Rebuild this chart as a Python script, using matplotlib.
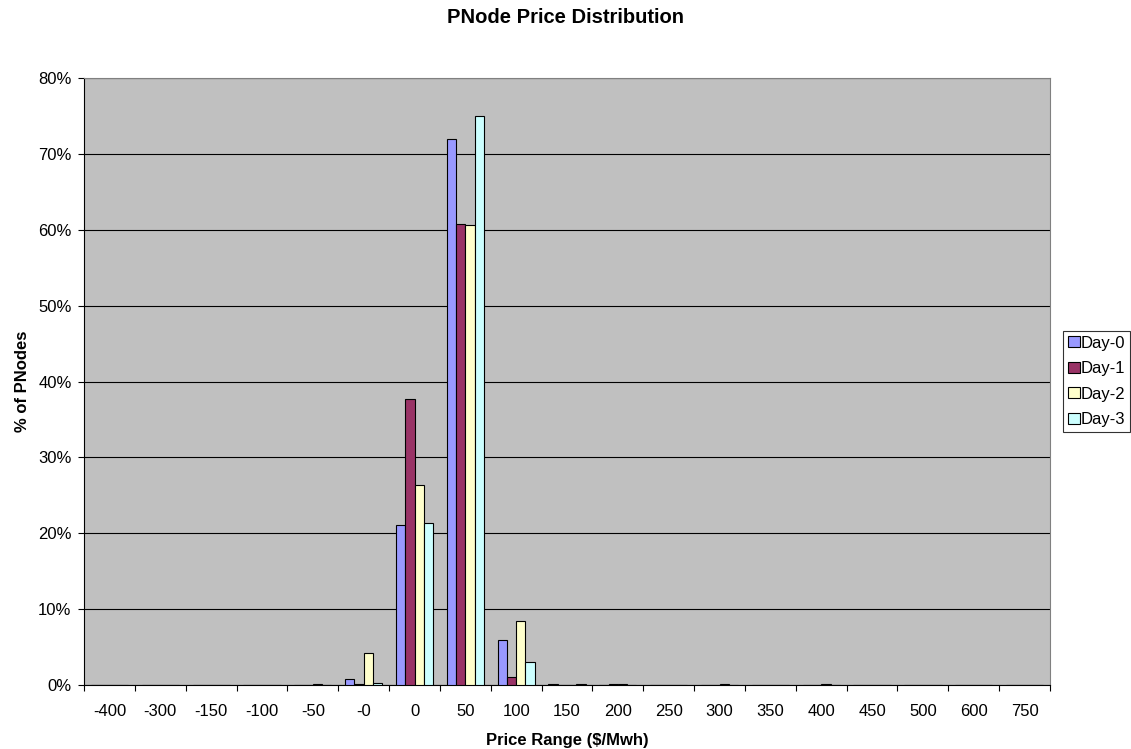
import matplotlib
matplotlib.use("Agg")
import matplotlib.pyplot as plt
import numpy as np
from matplotlib.ticker import PercentFormatter, MultipleLocator, FixedLocator, NullFormatter

plt.rcParams['font.family'] = ['Liberation Sans', 'DejaVu Sans']

categories = ["-400", "-300", "-150", "-100", "-50", "-0", "0", "50", "100", "150",
              "200", "250", "300", "350", "400", "450", "500", "600", "750"]
day0 = [0, 0, 0, 0, 0.0, 0.8, 21.1, 72.0, 5.9, 0.15, 0.0, 0.0, 0.0, 0, 0.0, 0, 0, 0, 0]
day1 = [0, 0, 0, 0, 0.0, 0.15, 37.7, 60.7, 1.05, 0.0, 0.15, 0.0, 0.0, 0, 0.0, 0, 0, 0, 0]
day2 = [0, 0, 0, 0, 0.1, 4.2, 26.3, 60.6, 8.5, 0.0, 0.15, 0.05, 0.1, 0, 0.1, 0, 0, 0, 0]
day3 = [0, 0, 0, 0, 0.0, 0.3, 21.3, 75.0, 3.1, 0.15, 0.0, 0.0, 0.0, 0, 0.0, 0, 0, 0, 0]
series = {"Day-0": day0, "Day-1": day1, "Day-2": day2, "Day-3": day3}
colors = ["#9999FF", "#993366", "#FFFFCC", "#CCFFFF"]

fig = plt.figure(figsize=(11.31, 7.49), dpi=100)
ax = fig.add_axes([0.0743, 0.0854, 0.8541, 0.8105])
ax.set_facecolor("#C0C0C0")

x = np.arange(len(categories))
w = 0.183
for i, (name, vals) in enumerate(series.items()):
    ax.bar(x + (i - 1.5) * w, vals, width=w, color=colors[i], edgecolor="black",
           linewidth=0.8, label=name, zorder=3)

ax.set_xlim(-0.5, len(categories) - 0.5)
ax.set_ylim(0, 80)
ax.yaxis.set_major_locator(MultipleLocator(10))
ax.yaxis.set_major_formatter(PercentFormatter(decimals=0))
ax.grid(axis="y", color="black", linewidth=0.8, zorder=1)
ax.set_axisbelow(True)

ax.xaxis.set_major_locator(FixedLocator(np.arange(-0.5, len(categories), 1.0)))
ax.xaxis.set_major_formatter(NullFormatter())
ax.xaxis.set_minor_locator(FixedLocator(x))
ax.set_xticklabels(categories, minor=True)
ax.tick_params(axis="x", which="minor", length=0, labelsize=12, pad=14)
ax.tick_params(axis="x", which="major", length=4, direction="out", color="black")
ax.tick_params(axis="y", length=4, direction="out", labelsize=12, pad=5)

for s in ["top", "right"]:
    ax.spines[s].set_color("#808080")
for s in ["left", "bottom"]:
    ax.spines[s].set_color("black")

ax.set_xlabel("Price Range ($/Mwh)", fontsize=12, fontweight="bold", labelpad=9.5)
ax.set_ylabel("% of PNodes", fontsize=12, fontweight="bold", labelpad=6)
fig.text(0.5, 0.977, "PNode Price Distribution", ha="center", va="center",
         fontsize=14.5, fontweight="bold")

leg = ax.legend(loc="center left", bbox_to_anchor=(1.0135, 0.5), fontsize=12,
                frameon=True, fancybox=False, edgecolor="black", handlelength=0.7,
                handleheight=0.65, handletextpad=0.05, borderpad=0.3, labelspacing=0.63,
                borderaxespad=0)
leg.get_frame().set_linewidth(0.8)

fig.savefig("out.png", dpi=100)
